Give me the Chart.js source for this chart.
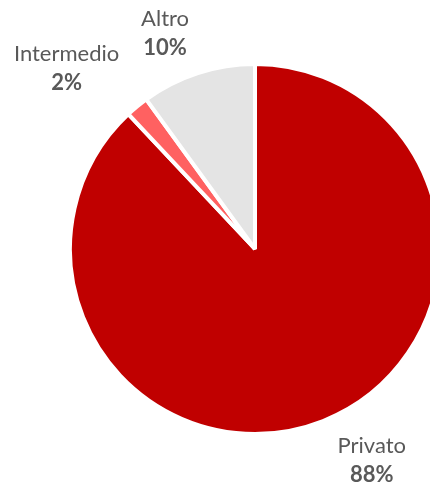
<!DOCTYPE html>
<html>
<head>
<meta charset="utf-8">
<script src="https://cdn.jsdelivr.net/npm/chart.js@4.4.0/dist/chart.umd.min.js"></script>
<style>
  html, body { margin: 0; padding: 0; background: #ffffff; overflow: hidden; }
  #wrap { width: 430px; height: 483px; position: relative; }
</style>
</head>
<body>
<div id="wrap"><canvas id="c" width="430" height="483"></canvas></div>
<script>
// ---- data ----
const categories = ['Privato', 'Intermedio', 'Altro'];
const values = [88, 2, 10];
const sliceColors = ['#C00000', '#FF6161', '#E4E4E4'];

// ---- label layout (angle shift in degrees from slice mid-angle, distance in px from centre) ----
const labelAngleShift = [-8.2, -5.5, -4];
const labelDistance = [235, 266, 240];

const labelPlugin = {
  id: 'outerLabels',
  afterDatasetsDraw(chart) {
    const ctx = chart.ctx;
    const meta = chart.getDatasetMeta(0);
    meta.data.forEach((arc, i) => {
      const p = arc.getProps(['x', 'y', 'startAngle', 'endAngle'], true);
      const mid = (p.startAngle + p.endAngle) / 2 + labelAngleShift[i] * Math.PI / 180;
      const lx = p.x + Math.cos(mid) * labelDistance[i];
      const ly = p.y + Math.sin(mid) * labelDistance[i];
      ctx.save();
      ctx.fillStyle = '#595959';
      ctx.textAlign = 'center';
      ctx.textBaseline = 'alphabetic';
      ctx.font = '22px Lato';
      ctx.fillText(categories[i], lx, ly);
      ctx.font = 'bold 22px Lato';
      ctx.fillText(values[i] + '%', lx, ly + 29);
      ctx.restore();
    });
  }
};

new Chart(document.getElementById('c'), {
  type: 'pie',
  data: {
    labels: categories,
    datasets: [{
      data: values,
      backgroundColor: sliceColors,
      borderColor: '#ffffff',
      borderWidth: 4,
      radius: 185,
      clip: false
    }]
  },
  options: {
    responsive: false,
    animation: false,
    layout: { padding: { left: 80, right: 0, top: 15, bottom: 0 } },
    plugins: {
      legend: { display: false },
      tooltip: { enabled: false }
    }
  },
  plugins: [labelPlugin]
});
</script>
</body>
</html>
